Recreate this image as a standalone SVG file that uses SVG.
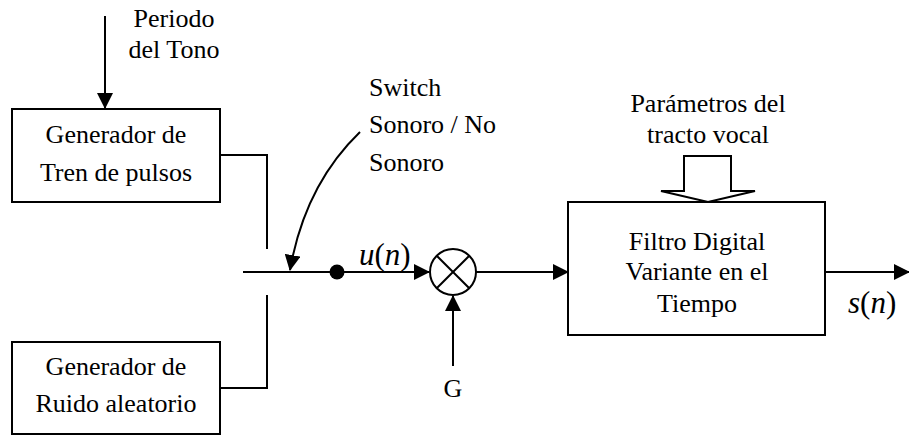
<svg xmlns="http://www.w3.org/2000/svg" width="909" height="435" viewBox="0 0 909 435" font-family="'Liberation Serif', 'DejaVu Serif', serif">
<defs>
<marker id="ah" markerUnits="userSpaceOnUse" markerWidth="16" markerHeight="16" viewBox="0 0 16 16" refX="15" refY="8" orient="auto">
<path d="M0,0 L16,8 L0,16 z" fill="#000"/>
</marker>
</defs>
<style>
text{font-family:'Liberation Serif','DejaVu Serif',serif}
.t{font-size:26px;fill:#000;text-anchor:middle}
.tl{font-size:26px;fill:#000}
.m{font-size:31px;fill:#000}
.i{font-style:italic}
.box{fill:#fff;stroke:#000;stroke-width:2}
.ln{fill:none;stroke:#000;stroke-width:2}
.ar{fill:none;stroke:#000;stroke-width:2;marker-end:url(#ah)}
</style>
<rect width="909" height="435" fill="#fff"/>

<g id="connectors">
<line class="ar" x1="105" y1="16" x2="105" y2="108"/>
<polyline class="ln" points="220,155 267,155 267,249"/>
<polyline class="ln" points="267,295 267,388 220,388"/>
<line class="ar" x1="243" y1="272" x2="429" y2="272"/>
<path class="ar" d="M360,132 Q305,185 290,270"/>
<line class="ar" x1="453" y1="366" x2="453" y2="296"/>
<line class="ar" x1="476" y1="272" x2="568" y2="272"/>
<line class="ar" x1="825" y1="272" x2="909" y2="272"/>
<polygon class="box" points="684,156 731,156 731,191 755,191 708,202 661,191 684,191"/>
</g>

<g id="label-periodo">
<text class="t" x="174" y="27">Periodo</text>
<text class="t" x="174" y="58">del Tono</text>
</g>

<g id="gen-pulsos">
<rect class="box" x="12" y="109" width="208" height="93"/>
<text class="t" x="116" y="143">Generador de</text>
<text class="t" x="116" y="181">Tren de pulsos</text>
</g>

<g id="gen-ruido">
<rect class="box" x="12" y="342" width="208" height="92"/>
<text class="t" x="116" y="375">Generador de</text>
<text class="t" x="116" y="412">Ruido aleatorio</text>
</g>

<g id="label-switch">
<text class="tl" x="369" y="96">Switch</text>
<text class="tl" x="369" y="133">Sonoro / No</text>
<text class="tl" x="369" y="171">Sonoro</text>
</g>

<g id="switch-dot">
<circle cx="337" cy="272" r="7.5" fill="#000"/>
</g>

<g id="label-un">
<text class="m" x="359" y="265"><tspan class="i">u</tspan>(<tspan class="i">n</tspan>)</text>
</g>

<g id="multiplier">
<circle cx="453" cy="272" r="23" fill="#fff" stroke="#000" stroke-width="2"/>
<line class="ln" x1="436.7" y1="255.7" x2="469.3" y2="288.3"/>
<line class="ln" x1="469.3" y1="255.7" x2="436.7" y2="288.3"/>
</g>

<g id="label-g">
<text class="t" x="453" y="397">G</text>
</g>

<g id="label-parametros">
<text class="t" x="708" y="112">Parámetros del</text>
<text class="t" x="708" y="143">tracto vocal</text>
</g>

<g id="filtro">
<rect class="box" x="568" y="202" width="257" height="133"/>
<text class="t" x="697" y="250">Filtro Digital</text>
<text class="t" x="697" y="280">Variante en el</text>
<text class="t" x="697" y="312">Tiempo</text>
</g>

<g id="label-sn">
<text class="m" x="848" y="313"><tspan class="i">s</tspan>(<tspan class="i">n</tspan>)</text>
</g>
</svg>
